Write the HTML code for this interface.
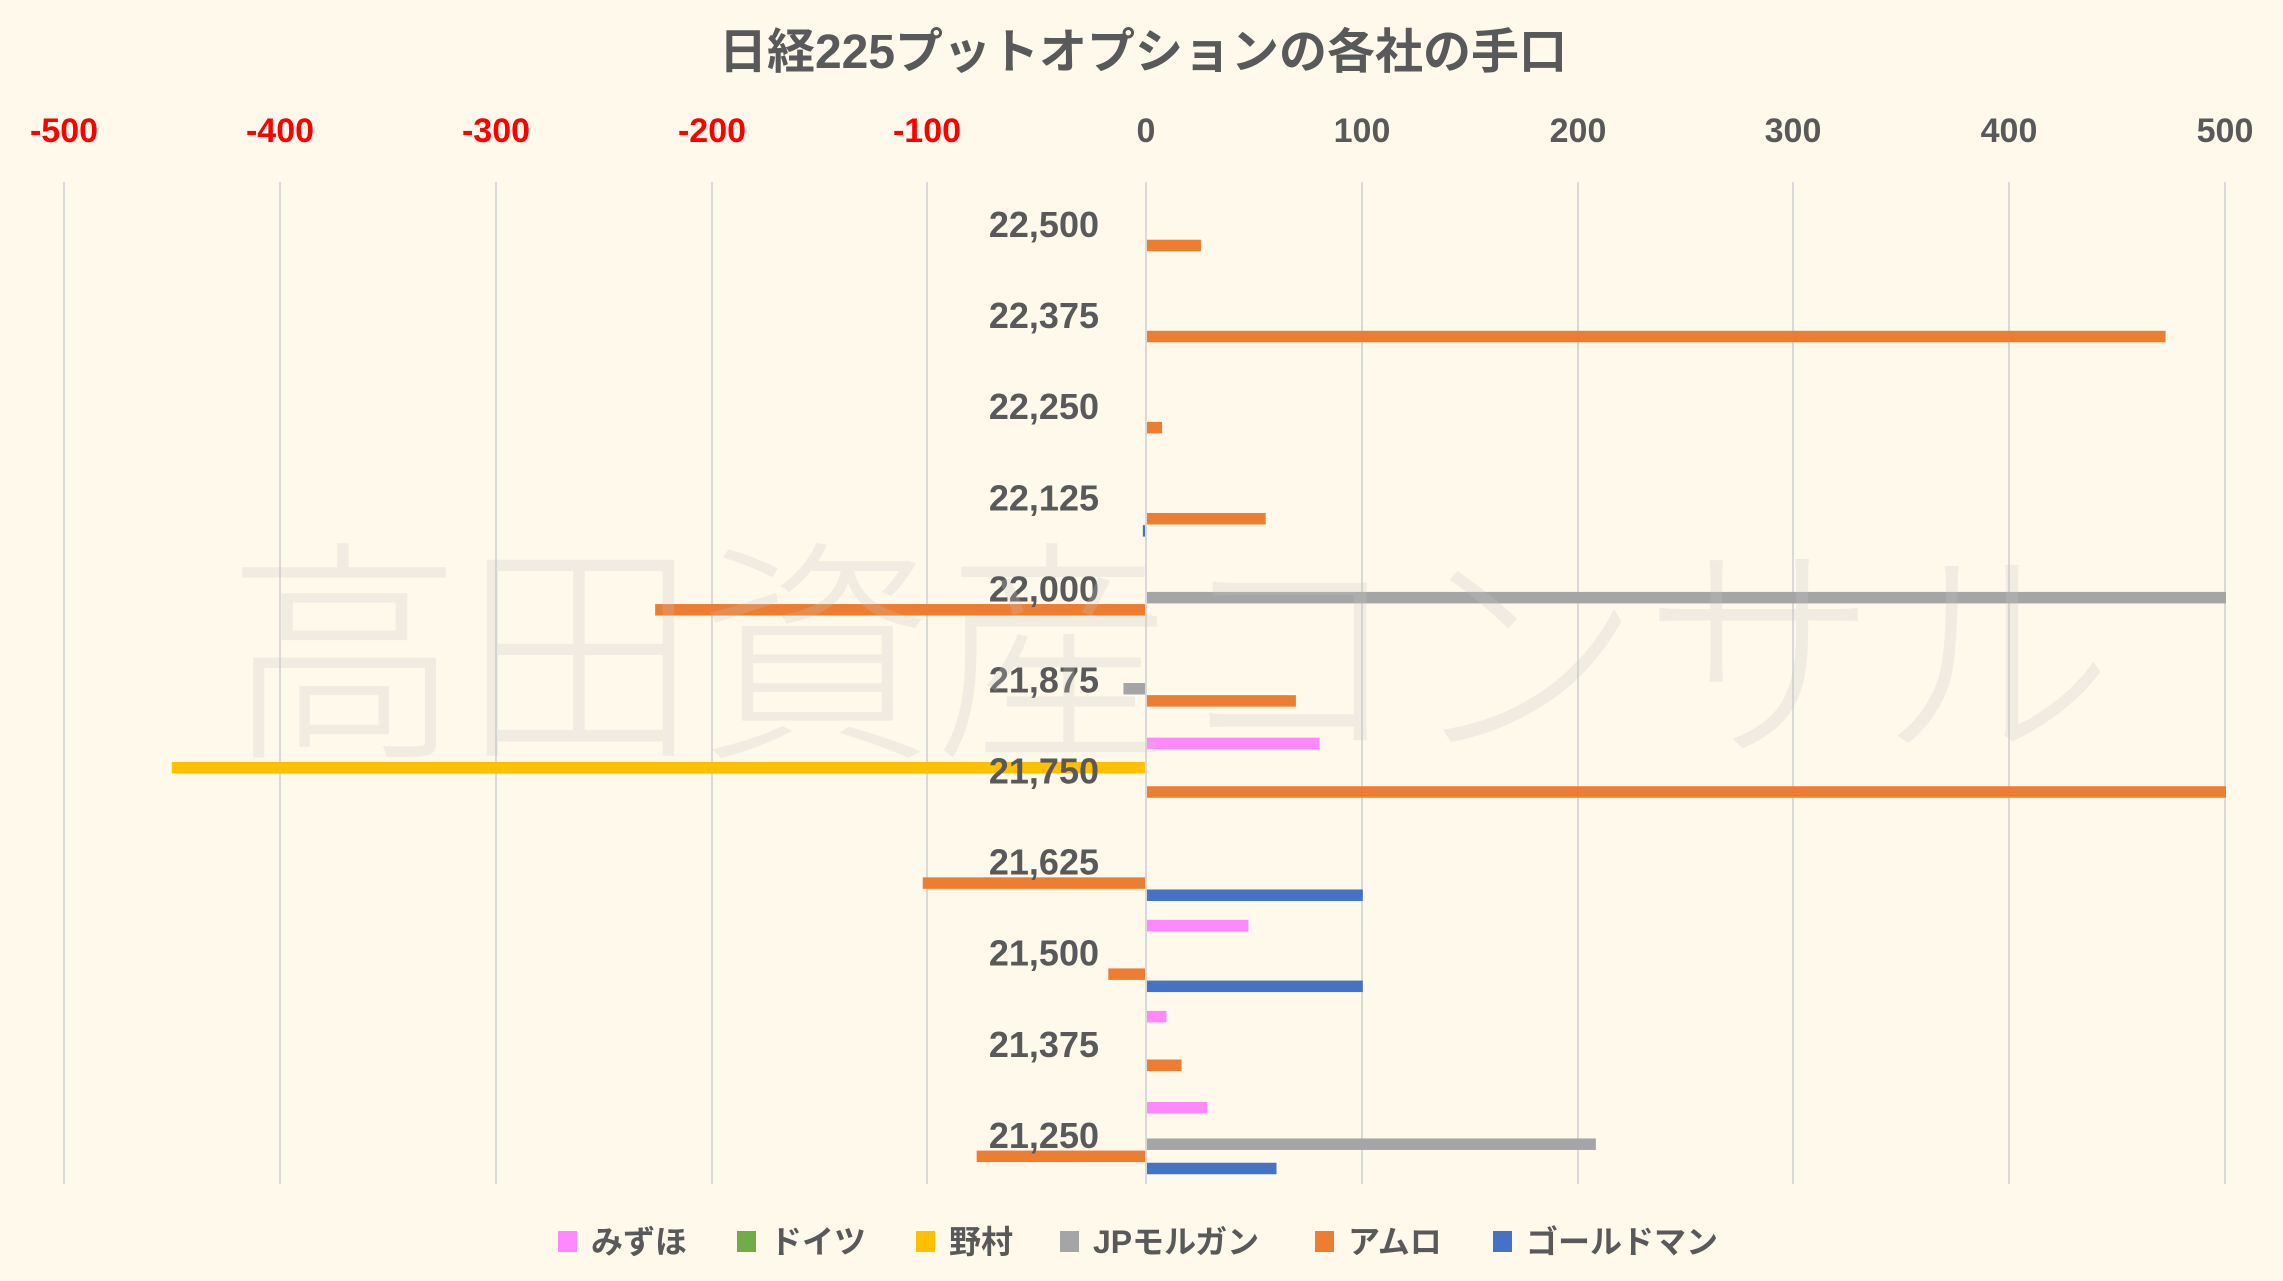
<!DOCTYPE html>
<html><head><meta charset="utf-8"><style>
html,body{margin:0;padding:0;background:#FFF9EC;}
svg{display:block}
text{font-family:"Liberation Sans","Noto Sans CJK JP",sans-serif;font-weight:bold;}
</style></head><body>
<svg width="2283" height="1281" viewBox="0 0 2283 1281" xmlns="http://www.w3.org/2000/svg">
<rect width="2283" height="1281" fill="#FFF9EC"/>
<text x="1143" y="68" text-anchor="middle" font-size="48" fill="#595959">日経225プットオプションの各社の手口</text>
<g font-size="34" text-anchor="middle">
<text x="64" y="142" fill="#FF0000">-500</text>
<text x="280" y="142" fill="#FF0000">-400</text>
<text x="496" y="142" fill="#FF0000">-300</text>
<text x="712" y="142" fill="#FF0000">-200</text>
<text x="927" y="142" fill="#FF0000">-100</text>
<text x="1146" y="142" fill="#595959">0</text>
<text x="1362" y="142" fill="#595959">100</text>
<text x="1578" y="142" fill="#595959">200</text>
<text x="1793" y="142" fill="#595959">300</text>
<text x="2009" y="142" fill="#595959">400</text>
<text x="2225" y="142" fill="#595959">500</text>
</g>
<g stroke="#D9D9D9" stroke-width="2">
<line x1="64" y1="182" x2="64" y2="1184"/><line x1="280" y1="182" x2="280" y2="1184"/>
<line x1="496" y1="182" x2="496" y2="1184"/><line x1="712" y1="182" x2="712" y2="1184"/>
<line x1="927" y1="182" x2="927" y2="1184"/><line x1="1146" y1="182" x2="1146" y2="1184"/>
<line x1="1362" y1="182" x2="1362" y2="1184"/><line x1="1578" y1="182" x2="1578" y2="1184"/>
<line x1="1793" y1="182" x2="1793" y2="1184"/><line x1="2009" y1="182" x2="2009" y2="1184"/>
<line x1="2225" y1="182" x2="2225" y2="1184"/>
</g>
<g id="bars"></g>
<g font-size="36" fill="#595959" text-anchor="end" id="labels"></g>
<text x="1170" y="740" text-anchor="middle" font-size="236" fill="#C8C8BE" fill-opacity="0.25" style="font-family:'Noto Sans CJK JP',sans-serif;font-weight:300">高田資産コンサル</text>
<g font-size="32" fill="#595959">
<rect x="558" y="1231" width="19" height="21" fill="#FF88FF"/><text x="591" y="1253">みずほ</text>
<rect x="737" y="1231" width="19" height="21" fill="#70AD47"/><text x="770" y="1253">ドイツ</text>
<rect x="916" y="1231" width="19" height="21" fill="#FFC000"/><text x="949" y="1253">野村</text>
<rect x="1060" y="1231" width="19" height="21" fill="#A5A5A5"/><text x="1093" y="1253">JPモルガン</text>
<rect x="1315" y="1231" width="19" height="21" fill="#ED7D31"/><text x="1348" y="1253">アムロ</text>
<rect x="1493" y="1231" width="19" height="21" fill="#4472C4"/><text x="1526" y="1253">ゴールドマン</text>
</g>
<script>
(function(){
var cats=["22,500","22,375","22,250","22,125","22,000","21,875","21,750","21,625","21,500","21,375","21,250"];
var cols=["#FF88FF","#70AD47","#FFC000","#A5A5A5","#ED7D31","#4472C4"];
var data=[
[0,0,0,0,25,0],[0,0,0,0,472,0],[0,0,0,0,7,0],[0,0,0,0,55,-1],
[0,0,0,500,-227,0],[0,0,0,-10,69,0],[80,0,-451,0,500,0],[0,0,0,0,-103,100],
[47,0,0,0,-17,100],[9,0,0,0,16,0],[28,0,0,208,-78,60]];
var ns="http://www.w3.org/2000/svg",b=document.getElementById("bars"),l=document.getElementById("labels");
var y0=182,ch=91.09,u=2.158,z=1146;
for(var i=0;i<11;i++){
 for(var s=0;s<6;s++){var v=data[i][s];if(!v)continue;
  var w=Math.abs(v)*u,x=v>0?z+1:z-w-1,y=y0+i*ch+9.1+s*12.15;
  var r=document.createElementNS(ns,"rect");r.setAttribute("x",x);r.setAttribute("y",y);
  r.setAttribute("width",w);r.setAttribute("height",11.5);r.setAttribute("fill",cols[s]);b.appendChild(r);}
 var t=document.createElementNS(ns,"text");t.setAttribute("x",1099);t.setAttribute("y",y0+i*ch+55);
 t.textContent=cats[i];l.appendChild(t);
}
})();
</script>
</svg>
</body></html>
